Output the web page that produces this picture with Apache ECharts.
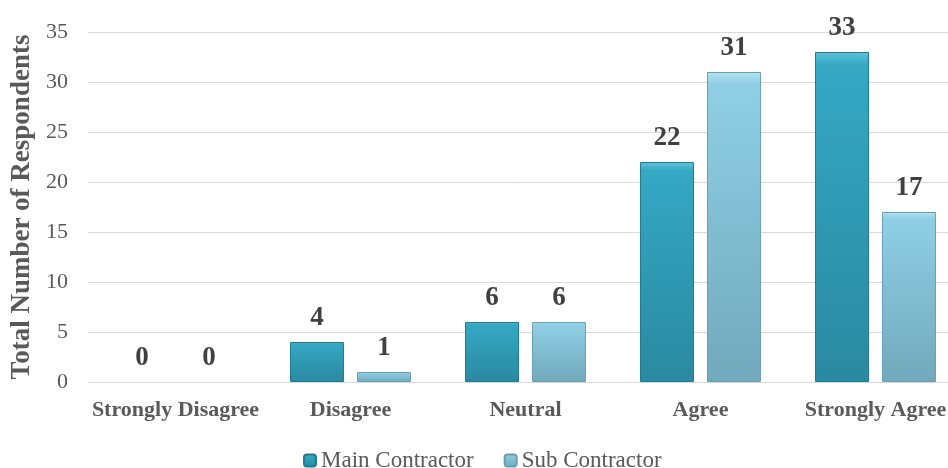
<!DOCTYPE html>
<html>
<head>
<meta charset="utf-8">
<script src="https://cdn.jsdelivr.net/npm/echarts@6/dist/echarts.min.js"></script>
<style>
  html, body { margin: 0; padding: 0; background: #fff; }
  #chart { width: 948px; height: 468px; }
</style>
</head>
<body>
<div id="chart"></div>
<script>
// Survey responses by contractor type
const categories = ['Strongly Disagree', 'Disagree', 'Neutral', 'Agree', 'Strongly Agree'];
const mainContractor = [0, 4, 6, 22, 33];
const subContractor = [0, 1, 6, 31, 17];
const yTicks = { min: 0, max: 35, interval: 5 };

const serif = '"Liberation Serif", "Times New Roman", serif';

function bevelFill(top, mid, bottom) {
  return new echarts.graphic.LinearGradient(0, 0, 0, 1, [
    { offset: 0, color: top },
    { offset: 0.04, color: mid },
    { offset: 0.97, color: bottom },
    { offset: 1, color: bottom }
  ]);
}

// zero-height bars get no outline so only their label is drawn
function barData(values) {
  return values.map(v => v === 0 ? { value: v, itemStyle: { borderColor: 'transparent', borderWidth: 0 } } : v);
}

const labelStyle = {
  show: true,
  position: 'top',
  distance: 10,
  fontFamily: serif,
  fontWeight: 'bold',
  fontSize: 27,
  color: '#404040'
};

const chart = echarts.init(document.getElementById('chart'));
chart.setOption({
  animation: false,
  textStyle: { fontFamily: serif },
  grid: { left: 88, width: 875, top: 32, bottom: 86, containLabel: false, outerBoundsMode: 'none' },
  legend: {
    top: 444,
    left: 298,
    itemWidth: 12,
    itemHeight: 12,
    itemGap: 30,
    textStyle: { fontFamily: serif, fontSize: 23, color: '#595959' },
    data: ['Main Contractor', 'Sub Contractor']
  },
  xAxis: {
    type: 'category',
    data: categories,
    axisTick: { show: false },
    axisLine: { lineStyle: { color: '#d9d9d9', width: 1 } },
    axisLabel: {
      interval: 0,
      margin: 17,
      fontFamily: serif,
      fontWeight: 'bold',
      fontSize: 22,
      color: '#595959'
    }
  },
  yAxis: {
    type: 'value',
    min: yTicks.min,
    max: yTicks.max,
    interval: yTicks.interval,
    name: 'Total Number of Respondents',
    nameLocation: 'middle',
    nameGap: 52,
    nameTextStyle: { fontFamily: serif, fontWeight: 'bold', fontSize: 27, color: '#595959' },
    axisLabel: { margin: 20, fontFamily: serif, fontSize: 22, color: '#595959' },
    splitLine: { lineStyle: { color: '#d9d9d9', width: 1 } }
  },
  series: [
    {
      name: 'Main Contractor',
      type: 'bar',
      data: barData(mainContractor),
      barWidth: 54,
      barGap: '24%',
      itemStyle: {
        color: bevelFill('#5cc3db', '#35a8c4', '#2a8aa1'),
        borderColor: '#227a8f',
        borderWidth: 1
      },
      label: labelStyle
    },
    {
      name: 'Sub Contractor',
      type: 'bar',
      data: barData(subContractor),
      barWidth: 54,
      itemStyle: {
        color: bevelFill('#b4e3f2', '#8fcfe5', '#73aabd'),
        borderColor: '#6a9fb2',
        borderWidth: 1
      },
      label: labelStyle
    }
  ]
});
</script>
</body>
</html>
